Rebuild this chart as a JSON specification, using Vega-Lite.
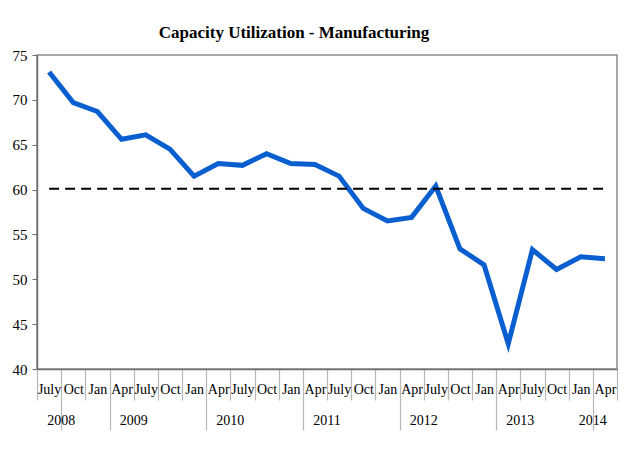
{
  "$schema": "https://vega.github.io/schema/vega-lite/v6.json",
  "width": 580,
  "height": 314,
  "padding": {"left": 12, "top": 24, "right": 17, "bottom": 5},
  "background": "white",
  "title": {
    "text": "Capacity Utilization - Manufacturing",
    "font": "Liberation Serif",
    "fontSize": 17,
    "fontWeight": "bold",
    "color": "black",
    "offset": 6,
    "dx": -33
  },
  "config": {
    "view": {"stroke": "#8c8c8c", "strokeWidth": 1.5},
    "axis": {"labelFont": "Liberation Serif", "labelColor": "black", "grid": false}
  },
  "data": {
    "values": [
      {"period": "2008 July", "value": 73.1, "benchmark": 60.1},
      {"period": "2008 Oct", "value": 69.7, "benchmark": 60.1},
      {"period": "2009 Jan", "value": 68.7, "benchmark": 60.1},
      {"period": "2009 Apr", "value": 65.6, "benchmark": 60.1},
      {"period": "2009 July", "value": 66.1, "benchmark": 60.1},
      {"period": "2009 Oct", "value": 64.5, "benchmark": 60.1},
      {"period": "2010 Jan", "value": 61.5, "benchmark": 60.1},
      {"period": "2010 Apr", "value": 62.9, "benchmark": 60.1},
      {"period": "2010 July", "value": 62.7, "benchmark": 60.1},
      {"period": "2010 Oct", "value": 64.0, "benchmark": 60.1},
      {"period": "2011 Jan", "value": 62.9, "benchmark": 60.1},
      {"period": "2011 Apr", "value": 62.8, "benchmark": 60.1},
      {"period": "2011 July", "value": 61.5, "benchmark": 60.1},
      {"period": "2011 Oct", "value": 57.9, "benchmark": 60.1},
      {"period": "2012 Jan", "value": 56.5, "benchmark": 60.1},
      {"period": "2012 Apr", "value": 56.9, "benchmark": 60.1},
      {"period": "2012 July", "value": 60.4, "benchmark": 60.1},
      {"period": "2012 Oct", "value": 53.4, "benchmark": 60.1},
      {"period": "2013 Jan", "value": 51.6, "benchmark": 60.1},
      {"period": "2013 Apr", "value": 42.8, "benchmark": 60.1},
      {"period": "2013 July", "value": 53.3, "benchmark": 60.1},
      {"period": "2013 Oct", "value": 51.1, "benchmark": 60.1},
      {"period": "2014 Jan", "value": 52.5, "benchmark": 60.1},
      {"period": "2014 Apr", "value": 52.3, "benchmark": 60.1}
    ]
  },
  "layer": [
    {
      "mark": {"type": "line", "stroke": "#0a5fd0", "strokeWidth": 5, "strokeJoin": "miter"},
      "encoding": {
        "x": {
          "field": "period",
          "type": "ordinal",
          "sort": null,
          "scale": {"type": "band", "paddingInner": 0, "paddingOuter": 0},
          "axis": {
            "title": null,
            "orient": "bottom",
            "labelAngle": 0,
            "labelExpr": "split(datum.value, ' ')[1]",
            "labelFontSize": 14,
            "labelBaseline": "middle",
            "labelPadding": {
              "condition": {"test": "indexof(['2008 July','2009 Jan','2010 Jan','2011 Jan','2012 Jan','2013 Jan','2014 Jan'], datum.value) >= 0", "value": -41},
              "value": -11
            },
            "tickBand": "extent",
            "tickColor": "#b8b8b8",
            "tickWidth": 1.2,
            "tickSize": {
              "condition": {"test": "indexof(['2008 July','2009 Jan','2010 Jan','2011 Jan','2012 Jan','2013 Jan','2014 Jan'], datum.value) >= 0", "value": 61},
              "value": 31
            },
            "domainColor": "#707070",
            "domainWidth": 1.5
          }
        },
        "y": {
          "field": "value",
          "type": "quantitative",
          "scale": {"domain": [40, 75], "nice": false, "zero": false},
          "axis": {
            "title": null,
            "values": [40, 45, 50, 55, 60, 65, 70, 75],
            "labelFontSize": 15,
            "labelPadding": 5,
            "tickSize": 5,
            "tickColor": "#707070",
            "domainColor": "#707070",
            "domainWidth": 1.5
          }
        }
      }
    },
    {
      "mark": {"type": "line", "stroke": "black", "strokeWidth": 2, "strokeDash": [10, 6]},
      "encoding": {
        "x": {
          "field": "period",
          "type": "ordinal",
          "sort": null,
          "scale": {"type": "band", "paddingInner": 0, "paddingOuter": 0},
          "axis": {
            "title": null,
            "orient": "bottom",
            "labelAngle": 0,
            "values": ["2008 Oct", "2009 July", "2010 July", "2011 July", "2012 July", "2013 July", "2014 Apr"],
            "labelExpr": "slice(datum.value, 0, 4)",
            "labelFontSize": 14,
            "labelBaseline": "middle",
            "labelOffset": -12.08,
            "labelPadding": 51,
            "ticks": false,
            "domain": false
          }
        },
        "y": {"field": "benchmark", "type": "quantitative"}
      }
    }
  ],
  "resolve": {"scale": {"x": "independent"}, "axis": {"x": "independent"}}
}
